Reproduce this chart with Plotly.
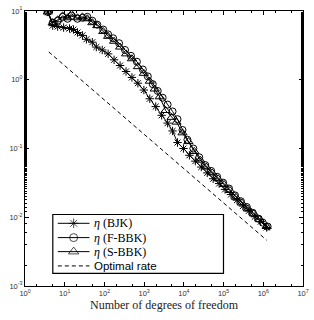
import plotly.graph_objects as go

# ---- data ----
bjk_n = [3.75, 4.99, 6.65, 9.39, 13.2, 16.7, 21.0, 27.9, 35.2, 49.6, 62.5, 88.1, 124, 175, 248, 350,
         493, 697, 984, 1387, 1959, 2763, 3900, 5197, 6918, 9772, 13800, 19450, 27480, 38810,
         54700, 77270, 109000, 153800, 217300, 306400, 432500, 610900, 861000, 1216000]
bjk_eta = [9.68, 6.12, 5.93, 5.74, 5.56, 5.37, 4.87, 4.42, 3.88, 3.52, 2.99, 2.71, 2.38, 1.95, 1.61, 1.32,
           1.08, 0.891, 0.709, 0.529, 0.407, 0.304, 0.234, 0.180, 0.122, 0.100, 0.0796, 0.0655, 0.0537, 0.0442,
           0.0363, 0.0309, 0.0254, 0.0214, 0.0177, 0.01455, 0.01236, 0.01016, 0.00863, 0.0071]

fbbk_n = [3.75, 4.99, 6.65, 8.87, 11.8, 14.9, 21.0, 27.9, 37.2, 49.6, 66.1, 93.3, 124, 166, 234, 330,
          466, 658, 929, 1236, 1648, 2198, 2924, 3900, 5197, 6918, 9226, 12300, 17340, 24490,
          34590, 48750, 68870, 97200, 137100, 193600, 273200, 385500, 544500, 767400, 966100, 1288000]
fbbk_eta = [9.68, 6.76, 7.21, 8.22, 7.71, 8.49, 7.71, 7.96, 8.22, 7.21, 6.33, 5.37, 4.57, 4.01, 3.40, 2.71,
            2.23, 1.83, 1.41, 1.12, 0.863, 0.687, 0.547, 0.435, 0.346, 0.267, 0.186, 0.134, 0.100, 0.0745,
            0.0574, 0.0472, 0.0388, 0.0319, 0.0262, 0.0208, 0.0171, 0.0141, 0.0116, 0.00953, 0.00836, 0.00733]

sbbk_n = [3.75, 4.99, 6.65, 8.87, 11.8, 14.9, 21.0, 27.9, 37.2, 49.6, 66.1, 93.3, 124, 175, 248, 350,
          493, 697, 984, 1387, 1849, 2466, 3475, 4909, 6531, 9226, 13030, 18370, 25940, 36640,
          51640, 72950, 102900, 145200, 205100, 289400, 408300, 576800, 812800, 1216000]
sbbk_eta = [9.68, 6.76, 7.45, 8.49, 7.96, 9.06, 7.96, 8.22, 7.71, 6.76, 6.12, 5.04, 4.28, 3.63, 2.99, 2.38,
            2.02, 1.55, 1.24, 0.953, 0.733, 0.565, 0.357, 0.284, 0.242, 0.169, 0.126, 0.0906, 0.0676, 0.0537,
            0.0442, 0.0363, 0.0299, 0.0245, 0.0195, 0.0161, 0.0132, 0.0112, 0.00923, 0.00733]

opt_n = [3.97, 1216000]
opt_eta = [2.54, 0.00464]

series_names = ["<i>η</i> (BJK)", "<i>η</i> (F-BBK)", "<i>η</i> (S-BBK)", "Optimal rate"]

x_tickvals = [1, 10, 100, 1000, 1e4, 1e5, 1e6, 1e7]
x_ticktext = ["10<sup>%d</sup>" % k for k in range(0, 8)]
y_tickvals = [1e-3, 1e-2, 1e-1, 1, 10]
y_ticktext = ["10<sup>-3</sup>", "10<sup>-2</sup>", "10<sup>-1</sup>", "10<sup>0</sup>", "10<sup>1</sup>"]

SERIF = "'Liberation Serif', 'DejaVu Serif', serif"
SANS = "'Liberation Sans', 'DejaVu Sans', sans-serif"
DASH = "4px,3px"

markers = [dict(symbol="asterisk-open", size=7), dict(symbol="circle-open", size=7),
           dict(symbol="triangle-up-open", size=8)]

fig = go.Figure()
for xs, ys, nm, mk in zip([bjk_n, fbbk_n, sbbk_n], [bjk_eta, fbbk_eta, sbbk_eta], series_names[:3], markers):
    fig.add_trace(go.Scatter(x=xs, y=ys, name=nm, mode="lines+markers", showlegend=False,
                             line=dict(color="black", width=1),
                             marker=dict(symbol=mk["symbol"], size=mk["size"], color="black",
                                         line=dict(color="black", width=1))))
fig.add_trace(go.Scatter(x=opt_n, y=opt_eta, mode="lines", name=series_names[3], showlegend=False,
                         line=dict(color="black", width=1, dash=DASH)))

# ---- hand-made legend (box, samples, labels) on an overlay axis in paper units ----
leg_x0, leg_x1, leg_y0, leg_y1 = 0.1, 0.714, 0.046, 0.26
row_y = [0.228, 0.176, 0.125, 0.073]
samp_x0, samp_x1, text_x = 0.118, 0.232, 0.24
fig.add_shape(type="rect", xref="paper", yref="paper", x0=leg_x0, x1=leg_x1, y0=leg_y0, y1=leg_y1,
              line=dict(color="black", width=1.2), fillcolor="rgba(0,0,0,0)", layer="below")
for i in range(3):
    fig.add_trace(go.Scatter(x=[samp_x0, (samp_x0 + samp_x1) / 2, samp_x1], y=[row_y[i]] * 3,
                             xaxis="x2", yaxis="y2", mode="lines+markers", showlegend=False,
                             hoverinfo="skip", line=dict(color="black", width=1),
                             marker=dict(symbol=markers[i]["symbol"], size=[0, markers[i]["size"] + 1, 0],
                                         color="black", line=dict(color="black", width=1))))
fig.add_trace(go.Scatter(x=[samp_x0, samp_x1], y=[row_y[3]] * 2, xaxis="x2", yaxis="y2",
                         mode="lines", showlegend=False, hoverinfo="skip",
                         line=dict(color="black", width=1, dash=DASH)))
for i, nm in enumerate(series_names):
    fam = SANS if i == 3 else SERIF
    fig.add_annotation(x=text_x, y=row_y[i], xref="paper", yref="paper", text=nm, showarrow=False,
                       xanchor="left", yanchor="middle",
                       font=dict(family=fam, size=12 if i < 3 else 11.5, color="black"))

axis_common = dict(type="log", showgrid=False, zeroline=False, showline=True, linecolor="black",
                   linewidth=1.2, mirror="allticks", ticks="inside", ticklen=4, tickcolor="black",
                   tickfont=dict(family=SANS, size=7.5, color="#333"),
                   minor=dict(ticks="inside", ticklen=2, tickcolor="black", showgrid=False))

fig.update_xaxes(range=[0, 7], tickvals=x_tickvals, ticktext=x_ticktext,
                 title=dict(text="Number of degrees of freedom", font=dict(family=SERIF, size=12, color="#222"),
                            standoff=3), **axis_common)
fig.update_yaxes(range=[-3, 1], tickvals=y_tickvals, ticktext=y_ticktext, **axis_common)

fig.update_layout(
    width=314, height=320,
    margin=dict(l=25, r=9, t=5, b=34),
    plot_bgcolor="white", paper_bgcolor="white",
    showlegend=False,
    xaxis2=dict(domain=[0, 1], range=[0, 1], overlaying="x", anchor="y2", visible=False, fixedrange=True),
    yaxis2=dict(domain=[0, 1], range=[0, 1], overlaying="y", anchor="x2", visible=False, fixedrange=True),
)

fig.write_html("out.html")
